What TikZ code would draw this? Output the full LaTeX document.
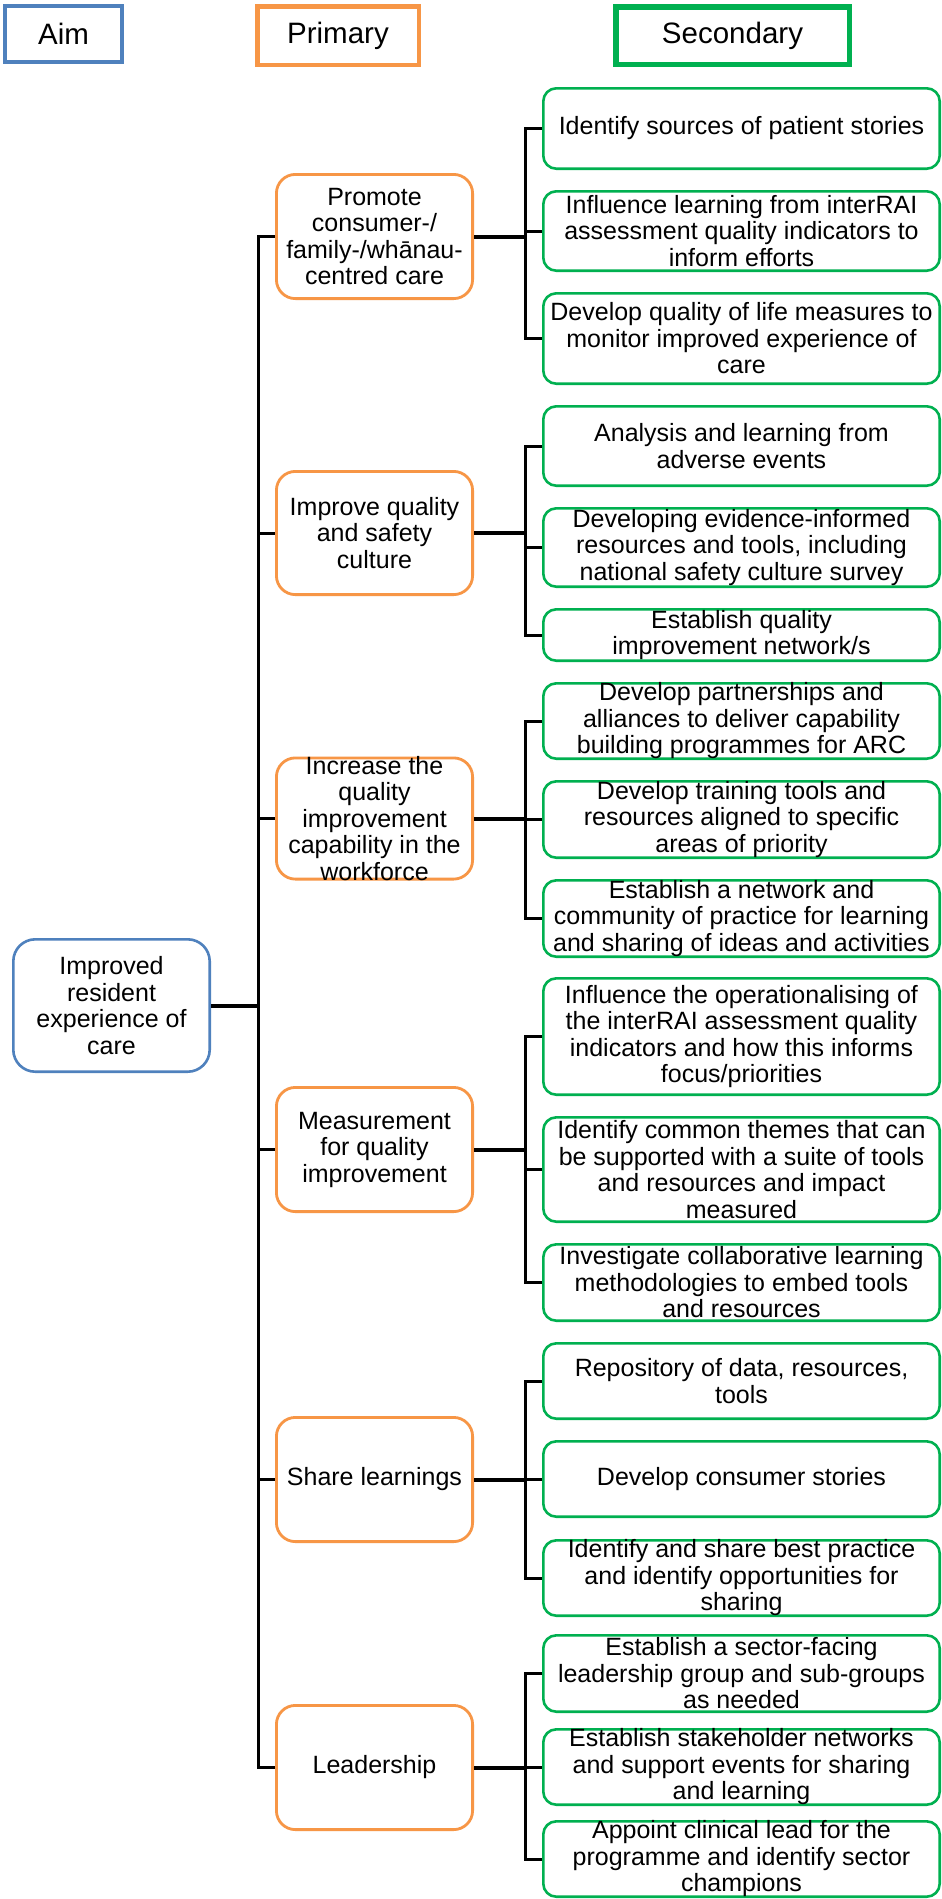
\documentclass[tikz,border=0pt]{standalone}
\usepackage{fontspec}
\setmainfont{Liberation Sans}
\definecolor{aimblue}{RGB}{79,129,189}
\definecolor{priorange}{RGB}{247,150,70}
\definecolor{secgreen}{RGB}{0,176,80}
\tikzset{
  hdrbox/.style={draw, inner sep=0pt, font=\fontsize{29.5}{33}\selectfont},
  aimbox/.style={draw=aimblue, line width=2.6pt, rounded corners=22pt, inner sep=0pt, minimum width=196.4pt, minimum height=132.4pt},
  pribox/.style={draw=priorange, line width=2.8pt, rounded corners=19pt, inner sep=0pt, minimum width=196.2pt},
  secbox/.style={draw=secgreen, line width=2.6pt, rounded corners=13pt, inner sep=0pt, minimum width=396.4pt},
  txt/.style={align=center, inner sep=0pt, font=\fontsize{25}{26.5}\selectfont},
  link/.style={line width=3pt, black},
  mainlink/.style={line width=4pt, black}
}
\newcommand{\mysec}[4]{%
  \node[secbox, minimum height=#3pt-2.6pt] (#1) at (741.5,#2) {};
  \node[txt] (#1t) at (#1) {#4};}
\newcommand{\mypri}[4]{%
  \node[pribox, minimum height=#3pt-2.8pt] (#1) at (374.5,#2) {};
  \node[txt] (#1t) at (#1) {#4};}
\begin{document}
\begin{tikzpicture}[x=1pt,y=-1pt]
\useasboundingbox (0,0) rectangle (942,1899);
\fill[white] (0,0) rectangle (942,1899);

% headers
\node[hdrbox, draw=aimblue, line width=4pt, minimum width=117pt, minimum height=56pt] (haim) at (63.5,34) {Aim};
\node[hdrbox, draw=priorange, line width=4.5pt, minimum width=161.5pt, minimum height=58.5pt] (hpri) at (338,35.5) {Primary};
\node[hdrbox, draw=secgreen, line width=5.5pt, minimum width=233.5pt, minimum height=57.5pt] (hsec) at (732.5,35.5) {Secondary};

% aim
\node[aimbox] (aim) at (111.5,1005.5) {};
\node[txt] (aimt) at (aim) {Improved\\resident\\experience of\\care};

% primary
\mypri{p1}{236.5}{127}{Promote\\consumer-/\\family-/whānau-\\centred care}
\mypri{p2}{533}{126}{Improve quality\\and safety\\culture}
\mypri{p3}{818.5}{124}{Increase the\\quality\\improvement\\capability in the\\workforce}
\mypri{p4}{1149.5}{127}{Measurement\\for quality\\improvement}
\mypri{p5}{1479.5}{127}{Share learnings}
\mypri{p6}{1767.5}{127}{Leadership}

% secondary
\mysec{s1}{128.5}{83}{Identify sources of patient stories}
\mysec{s2}{231}{82}{Influence learning from interRAI\\assessment quality indicators to\\inform efforts}
\mysec{s3}{338.5}{93}{Develop quality of life measures to\\monitor improved experience of\\care}
\mysec{s4}{446}{82}{Analysis and learning from\\adverse events}
\mysec{s5}{547.5}{81}{Developing evidence-informed\\resources and tools, including\\national safety culture survey}
\mysec{s6}{635}{54}{Establish quality\\improvement network/s}
\mysec{s7}{721}{78}{Develop partnerships and\\alliances to deliver capability\\building programmes for ARC}
\mysec{s8}{819.5}{79}{Develop training tools and\\resources aligned to specific\\areas of priority}
\mysec{s9}{918.5}{79}{Establish a network and\\community of practice for learning\\and sharing of ideas and activities}
\mysec{s10}{1036.5}{119}{Influence the operationalising of\\the interRAI assessment quality\\indicators and how this informs\\focus/priorities}
\mysec{s11}{1169.5}{107}{Identify common themes that can\\be supported with a suite of tools\\and resources and impact\\measured}
\mysec{s12}{1282.5}{79}{Investigate collaborative learning\\methodologies to embed tools\\and resources}
\mysec{s13}{1381}{78}{Repository of data, resources,\\tools}
\mysec{s14}{1479}{78}{Develop consumer stories}
\mysec{s15}{1578}{78}{Identify and share best practice\\and identify opportunities for\\sharing}
\mysec{s16}{1673.5}{79}{Establish a sector-facing\\leadership group and sub-groups\\as needed}
\mysec{s17}{1767}{78}{Establish stakeholder networks\\and support events for sharing\\and learning}
\mysec{s18}{1859}{78}{Appoint clinical lead for the\\programme and identify sector\\champions}

% connector guide coordinates
\coordinate (tx) at (258,0);
\coordinate (bx) at (525,0);

% aim to trunk
\draw[mainlink] (aim.east) -- (aim.east -| tx);
\draw[link] (p1.west) -- (tx |- p1.west) -- (tx |- p6.west) -- (p6.west);
\foreach \p in {p2,p3,p4,p5} {\draw[link] (tx |- \p.west) -- (\p.west);}

% brackets
\foreach \pp/\a/\b/\c in {p1/s1/s2/s3, p2/s4/s5/s6, p3/s7/s8/s9, p4/s10/s11/s12, p5/s13/s14/s15, p6/s16/s17/s18} {
  \draw[mainlink] (\pp.east) -- (bx |- \pp.east);
  \draw[link] (\a.west) -- (bx |- \a.west) -- (bx |- \c.west) -- (\c.west);
  \draw[link] (bx |- \b.west) -- (\b.west);
}
\end{tikzpicture}
\end{document}
